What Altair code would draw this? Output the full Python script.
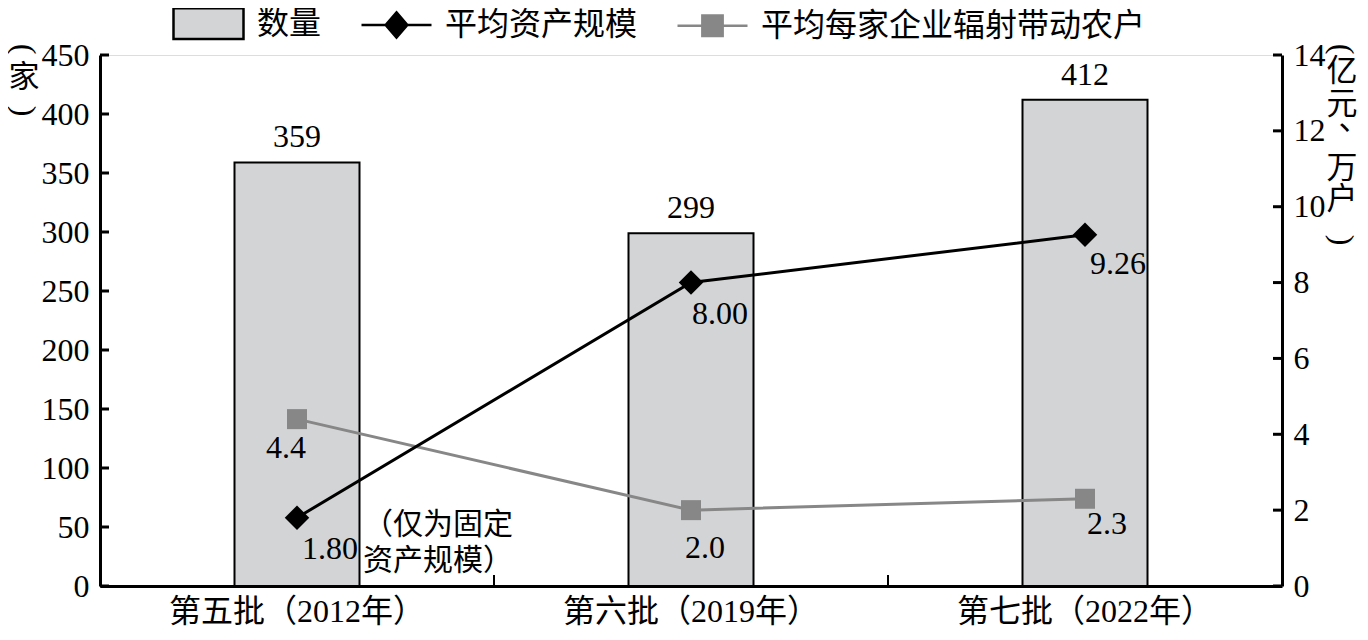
import altair as alt
import pandas as pd

# ---------------- data ----------------
cats = ["第五批（2012年）", "第六批（2019年）", "第七批（2022年）"]
counts = [359, 299, 412]
assets = [1.80, 8.00, 9.26]
farmers = [4.4, 2.0, 2.3]
series_names = ["数量", "平均资产规模", "平均每家企业辐射带动农户"]
left_ticks = [0, 50, 100, 150, 200, 250, 300, 350, 400, 450]
right_ticks = [0, 2, 4, 6, 8, 10, 12, 14]
left_title = ["(", "家", ")"]
right_title = ["(", "亿", "元", "、", "万", "户", ")"]
note_lines = ["（仅为固定", "资产规模）"]

df = pd.DataFrame({"cat": cats, "count": counts, "asset": assets, "farm": farmers})
lt_df = pd.DataFrame({"count": left_ticks})
rt_df = pd.DataFrame({"asset": right_ticks})
leg_df = pd.DataFrame({"s": series_names})
one = pd.DataFrame({"k": [0]})

# ---------------- styles ----------------
W, H = 1182, 531
FONT = "Liberation Serif, Noto Sans CJK SC"
CJK = "Noto Sans CJK SC"
FS = 32
BAR_FILL = "#d3d4d6"
GRAY = "#878787"

x_axis = alt.Axis(title=None, tickSize=0, labelPadding=10, labelAngle=0, labelLimit=1000,
                  labelFont=FONT, labelFontSize=FS, labelColor="black",
                  domainColor="black", domainWidth=3, grid=False)
x_scale = alt.Scale(paddingInner=0, paddingOuter=0)


def X(**kw):
    return alt.X("cat:N", sort=cats, scale=x_scale, axis=x_axis, **kw)


def make_y_axis(orient, vals):
    return alt.Axis(orient=orient, values=vals, tickSize=0, labelPadding=11,
                    labelFont=FONT, labelFontSize=FS, labelColor="black",
                    domainColor="black", domainWidth=3, grid=False, title=None)


left_axis = make_y_axis("left", left_ticks)
right_axis = make_y_axis("right", right_ticks)

left_scale = alt.Scale(domain=[0, 450], nice=False)
right_scale = alt.Scale(domain=[0, 14], nice=False)


def YL(field):
    return alt.Y(f"{field}:Q", scale=left_scale, axis=left_axis)


def YR(field):
    return alt.Y(f"{field}:Q", scale=right_scale, axis=right_axis)


# ---------------- vertical axis titles (upright CJK, rotated brackets) ----------------
def title_char(ch, px, py):
    is_paren = ch in "()"
    return alt.Chart(one).mark_text(
        text=ch, angle=90 if is_paren else 0, align="center", baseline="middle",
        font="Liberation Serif" if is_paren else CJK, fontSize=32 if is_paren else 31,
        color="black").encode(x=alt.value(px), y=alt.value(py))


left_title_pos = [(-76, -6), (-76, 23), (-76, 56)]
right_title_pos = [(W + 60, -6), (W + 60, 17), (W + 60, 50), (W + 72, 66),
                   (W + 60, 114), (W + 60, 145), (W + 60, 185)]
title_layers = [title_char(c, *p) for c, p in zip(left_title, left_title_pos)]
title_layers += [title_char(c, *p) for c, p in zip(right_title, right_title_pos)]

# ---------------- left group ----------------
bars = alt.Chart(df).mark_bar(size=125, fill=BAR_FILL, stroke="black", strokeWidth=2).encode(
    x=X(), y=YL("count"))

bar_labels = alt.Chart(df).mark_text(baseline="middle", dy=-25, font=FONT, fontSize=FS,
                                     color="black").encode(x=X(), y=YL("count"), text="count:Q")

left_tick_marks = alt.Chart(lt_df).mark_rule(color="black", strokeWidth=3).encode(
    y=YL("count"), x=alt.value(0), x2=alt.value(9))

x_tick_marks = alt.Chart(df).mark_rule(color="black", strokeWidth=2).encode(
    x=X(bandPosition=0), y=alt.value(H), y2=alt.value(H - 11))

legend = alt.Legend(title=None, orient="none", legendX=72, legendY=-68, direction="horizontal",
                    padding=0, symbolSize=4900, symbolStrokeWidth=2.5, symbolOpacity=1,
                    labelFont=FONT, labelFontSize=FS, labelColor="black", labelOffset=12,
                    labelLimit=800, columnPadding=34)

shape_paths = [
    "M-1,-0.44H1V0.44H-1Z",
    "M-1,0H1M0,-0.36L0.31,0L0,0.36L-0.31,0Z",
    "M-1,0H1M-0.29,-0.29H0.29V0.29H-0.29Z",
]
legend_layer = alt.Chart(leg_df).mark_point(filled=True, opacity=0).encode(
    shape=alt.Shape("s:N", sort=series_names,
                    scale=alt.Scale(domain=series_names, range=shape_paths), legend=legend),
    fill=alt.Fill("s:N", sort=series_names,
                  scale=alt.Scale(domain=series_names, range=[BAR_FILL, "black", GRAY]), legend=legend),
    stroke=alt.Stroke("s:N", sort=series_names,
                      scale=alt.Scale(domain=series_names, range=["black", "black", GRAY]), legend=legend),
)

left_group = alt.layer(bars, bar_labels, left_tick_marks, x_tick_marks, legend_layer, *title_layers)

# ---------------- right group ----------------
gray_line = alt.Chart(df).mark_line(color=GRAY, strokeWidth=3).encode(x=X(), y=YR("farm"))
gray_pts = alt.Chart(df).mark_point(shape="square", filled=True, size=400, color=GRAY,
                                    opacity=1).encode(x=X(), y=YR("farm"))
black_line = alt.Chart(df).mark_line(color="black", strokeWidth=3).encode(x=X(), y=YR("asset"))
black_pts = alt.Chart(df).mark_point(shape="diamond", filled=True, size=600, color="black",
                                     opacity=1).encode(x=X(), y=YR("asset"))

asset_offsets = [(33, 31), (29, 31), (33, 29)]
farm_offsets = [(-11, 29), (14, 38), (22, 25)]

label_layers = []
for i, (dx, dy) in enumerate(asset_offsets):
    label_layers.append(
        alt.Chart(df).transform_filter(alt.datum.cat == cats[i]).mark_text(
            dx=dx, dy=dy, baseline="middle", font=FONT, fontSize=FS, color="black").encode(
            x=X(), y=YR("asset"), text=alt.Text("asset:Q", format=".2f")))
for i, (dx, dy) in enumerate(farm_offsets):
    label_layers.append(
        alt.Chart(df).transform_filter(alt.datum.cat == cats[i]).mark_text(
            dx=dx, dy=dy, baseline="middle", font=FONT, fontSize=FS, color="black").encode(
            x=X(), y=YR("farm"), text=alt.Text("farm:Q", format=".1f")))

note = alt.Chart(df).transform_filter(alt.datum.cat == cats[0]).mark_text(
    align="left", baseline="top", dx=66, dy=-8, font=FONT, fontSize=30, lineHeight=36,
    color="black").encode(x=X(), y=YR("asset"), text=alt.value(note_lines))

right_tick_marks = alt.Chart(rt_df).mark_rule(color="black", strokeWidth=3).encode(
    y=YR("asset"), x=alt.value(W), x2=alt.value(W - 9))

right_group = alt.layer(gray_line, gray_pts, black_line, black_pts, *label_layers, note,
                        right_tick_marks)

chart = alt.layer(left_group, right_group).resolve_scale(y="independent").properties(
    width=W, height=H,
    autosize=alt.AutoSizeParams(type="none"),
    padding={"left": 92, "top": 47, "right": 78, "bottom": 42},
).configure_view(stroke=None).configure(background="white")

chart.save("out.html", embed_options={"renderer": "svg", "actions": False})
